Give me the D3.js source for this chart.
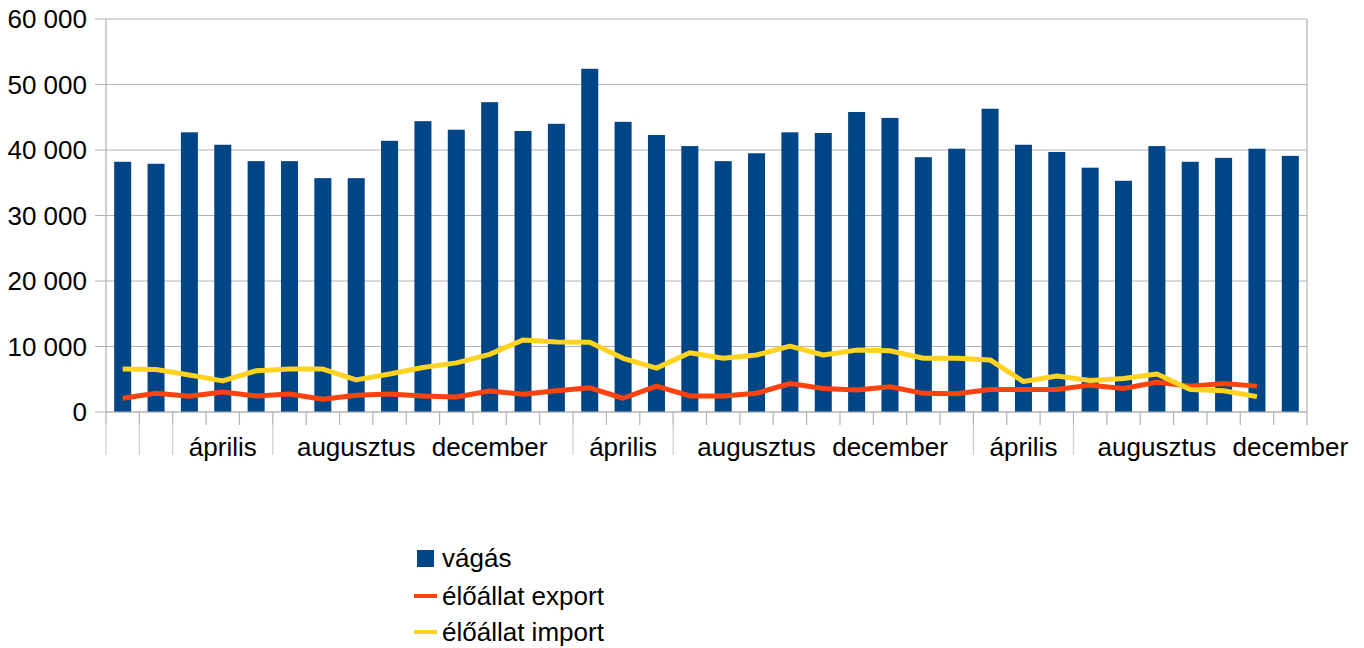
<!DOCTYPE html>
<html>
<head>
<meta charset="utf-8">
<script src="https://cdn.jsdelivr.net/npm/d3@7"></script>
<style>
  html, body { margin: 0; padding: 0; background: #fff; }
  svg { display: block; font-family: "Liberation Sans", Arial, sans-serif; }
</style>
</head>
<body>
<div id="chart"></div>
<script>
// havi adatok, 3 év
const months = ["január", "február", "március", "április", "május", "június",
  "július", "augusztus", "szeptember", "október", "november", "december"];
const categories = [...months, ...months, ...months];

const vagas = [
  38200, 37900, 42700, 40800, 38300, 38300, 35700, 35700, 41400, 44400, 43100, 47300,
  42900, 44000, 52400, 44300, 42300, 40600, 38300, 39500, 42700, 42600, 45800, 44900,
  38900, 40200, 46300, 40800, 39700, 37300, 35300, 40600, 38200, 38800, 40200, 39100
];
const exportVals = [
  2100, 2850, 2400, 3050, 2450, 2750, 1950, 2550, 2750, 2450, 2300, 3200,
  2700, 3250, 3700, 2100, 3950, 2450, 2450, 2850, 4350, 3600, 3350, 3850,
  2850, 2800, 3450, 3450, 3450, 4100, 3600, 4550, 3950, 4350, 3950, null
];
const importVals = [
  6550, 6500, 5650, 4750, 6300, 6550, 6550, 4900, 5800, 6800, 7500, 8800,
  11000, 10700, 10650, 8200, 6700, 9050, 8200, 8700, 10050, 8700, 9450, 9350,
  8200, 8200, 7950, 4650, 5500, 4800, 5100, 5800, 3450, 3250, 2350, null
];
const yTicks = [0, 10000, 20000, 30000, 40000, 50000, 60000];
const legendItems = ["vágás", "élőállat export", "élőállat import"];

const W = 1364, H = 648;
const plotL = 106, plotR = 1307, plotT = 19, plotB = 412;
const colBar = "#004586", colExp = "#ff420e", colImp = "#ffd320";
const gridCol = "#b3b3b3";
const fontSize = 26;

const svg = d3.select("#chart").append("svg")
  .attr("width", W).attr("height", H);

const x = d3.scaleBand()
  .domain(d3.range(categories.length))
  .range([plotL, plotR])
  .paddingInner(0.49)
  .paddingOuter(0.245);
const step = x.step();
const cx = i => x(i) + x.bandwidth() / 2;

const y = d3.scaleLinear().domain([0, 60000]).range([plotB, plotT]);

const fmt = v => d3.format(",")(v).replace(/,/g, " ");

// gridlines + y ticks
svg.append("g").selectAll("line").data(yTicks).join("line")
  .attr("x1", plotL - 11).attr("x2", plotR)
  .attr("y1", d => y(d)).attr("y2", d => y(d))
  .attr("stroke", gridCol).attr("stroke-width", 1.2);

svg.append("g").selectAll("text").data(yTicks).join("text")
  .attr("x", 87).attr("y", d => y(d))
  .attr("dy", "0.35em")
  .attr("text-anchor", "end")
  .attr("font-size", fontSize)
  .attr("fill", "#000")
  .text(fmt);

// frame
svg.append("line").attr("x1", plotL).attr("x2", plotL).attr("y1", plotT).attr("y2", plotB)
  .attr("stroke", gridCol).attr("stroke-width", 1.2);
svg.append("line").attr("x1", plotR).attr("x2", plotR).attr("y1", plotT).attr("y2", plotB)
  .attr("stroke", gridCol).attr("stroke-width", 1.2);

// category labels (csak minden negyedik)
const labelG = svg.append("g");
const shown = categories.map((c, i) => ({ c, i })).filter(d => d.i % 4 === 3);
const labels = labelG.selectAll("text").data(shown).join("text")
  .attr("x", d => cx(d.i)).attr("y", 456)
  .attr("text-anchor", "middle")
  .attr("font-size", fontSize)
  .attr("fill", "#000")
  .text(d => d.c);

const spans = [];
labels.each(function () {
  const b = this.getBBox();
  spans.push([b.x - 2, b.x + b.width + 2]);
});

// tick marks between categories
const tickPos = d3.range(categories.length + 1).map(k => plotL + k * step);
const tickG = svg.append("g");
tickPos.forEach(px => {
  tickG.append("line")
    .attr("x1", px).attr("x2", px).attr("y1", plotB).attr("y2", 425)
    .attr("stroke", gridCol).attr("stroke-width", 1.2);
  const hit = spans.some(s => px >= s[0] && px <= s[1]);
  if (!hit) {
    tickG.append("line")
      .attr("x1", px).attr("x2", px).attr("y1", 425).attr("y2", 455)
      .attr("stroke", "#cfcfcf").attr("stroke-width", 1.2);
  }
});

// bars
svg.append("g").selectAll("rect").data(vagas).join("rect")
  .attr("x", (d, i) => x(i))
  .attr("width", x.bandwidth())
  .attr("y", d => y(d))
  .attr("height", d => plotB - y(d))
  .attr("fill", colBar);

// bottom axis line
svg.append("line").attr("x1", plotL).attr("x2", plotR).attr("y1", plotB).attr("y2", plotB)
  .attr("stroke", gridCol).attr("stroke-width", 1.2);

const line = d3.line()
  .defined(d => d != null)
  .x((d, i) => cx(i))
  .y(d => y(d));

svg.append("path").datum(exportVals)
  .attr("d", line).attr("fill", "none")
  .attr("stroke", colExp).attr("stroke-width", 5)
  .attr("stroke-linejoin", "round");

svg.append("path").datum(importVals)
  .attr("d", line).attr("fill", "none")
  .attr("stroke", colImp).attr("stroke-width", 5)
  .attr("stroke-linejoin", "round");

// legend
const leg = svg.append("g").attr("transform", "translate(414,0)");
const legY = [558, 596, 632];
leg.append("rect").attr("x", 3).attr("y", legY[0] - 8).attr("width", 17).attr("height", 17)
  .attr("fill", colBar);
leg.append("line").attr("x1", 0).attr("x2", 23).attr("y1", legY[1]).attr("y2", legY[1])
  .attr("stroke", colExp).attr("stroke-width", 4);
leg.append("line").attr("x1", 0).attr("x2", 23).attr("y1", legY[2]).attr("y2", legY[2])
  .attr("stroke", colImp).attr("stroke-width", 4);
leg.selectAll("text").data(legendItems).join("text")
  .attr("x", 28).attr("y", (d, i) => legY[i])
  .attr("dy", "0.35em")
  .attr("font-size", fontSize)
  .attr("fill", "#000")
  .text(d => d);
</script>
</body>
</html>
